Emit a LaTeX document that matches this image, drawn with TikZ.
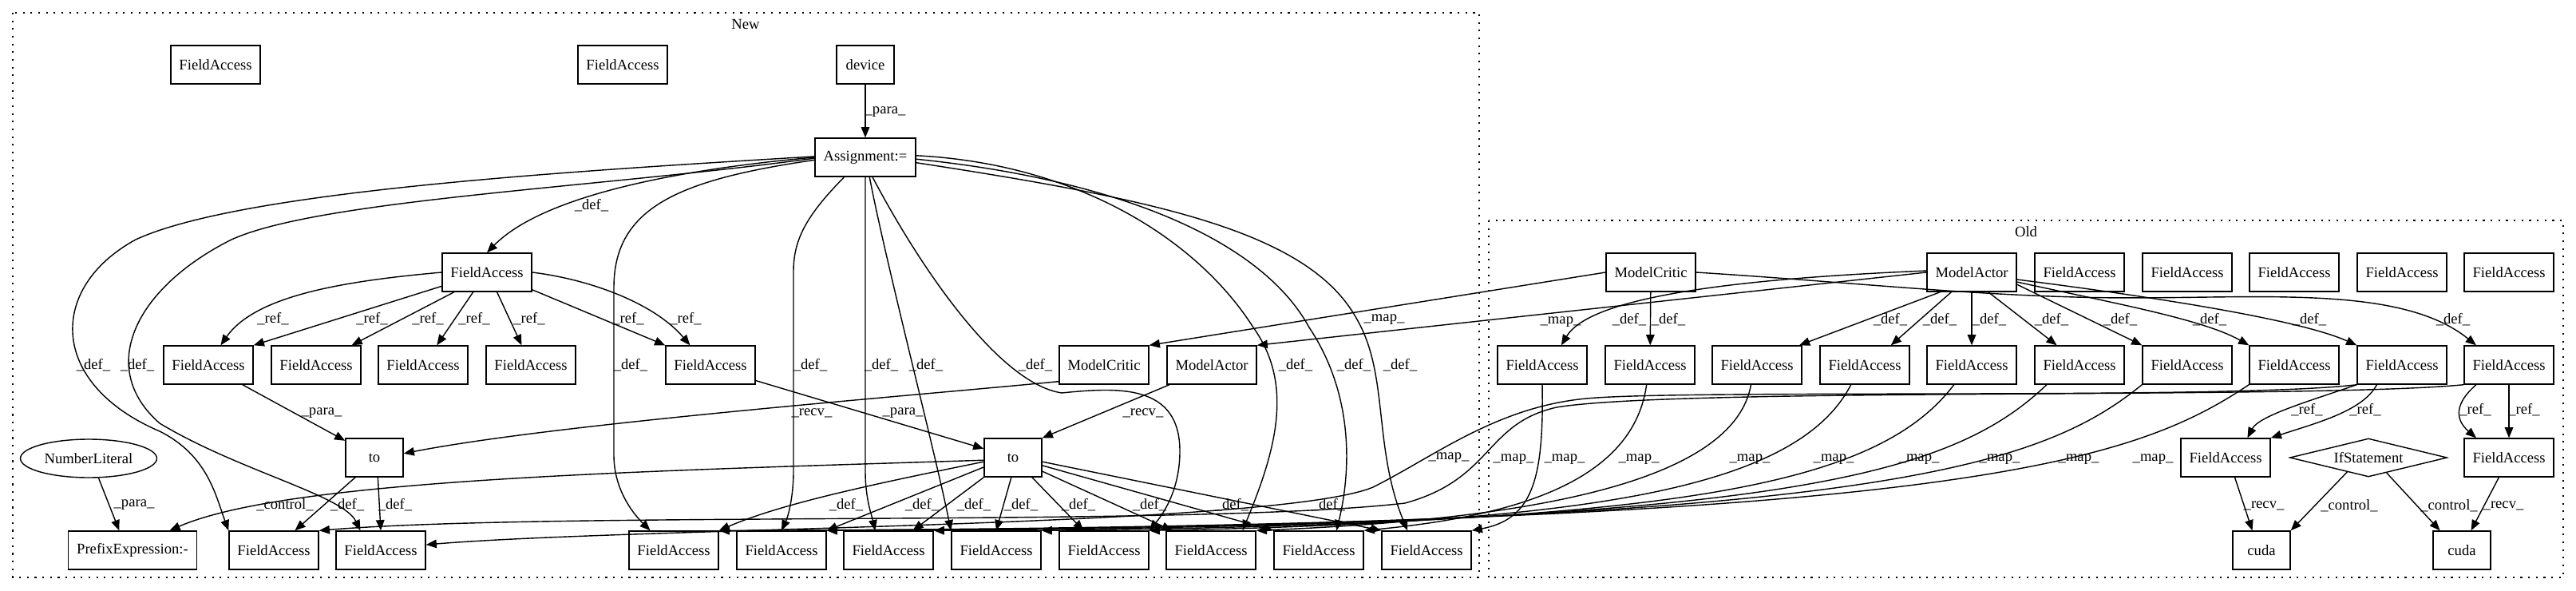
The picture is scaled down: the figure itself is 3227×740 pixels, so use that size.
\documentclass[tikz,border=0pt]{standalone}
\usepackage{fontspec}
\setmainfont{Liberation Serif}
\usetikzlibrary{shapes,arrows.meta}

\tikzset{
    box/.style={draw, rectangle, line width=0.8pt, minimum width=1.44cm, minimum height=0.96cm, inner xsep=0.21cm, inner ysep=0.1cm},
    oval/.style={draw, ellipse, line width=0.8pt, minimum width=3.42cm, minimum height=0.96cm, inner sep=0pt},
    cond/.style={draw, diamond, line width=0.8pt, aspect=4.1, minimum width=3.94cm, minimum height=0.96cm, inner sep=0pt},
    link/.style={-{Triangle[length=7.5pt,width=6pt]}, line width=0.8pt},
    lbl/.style={inner sep=0pt},
    cluster/.style={line width=0.8pt, dash pattern=on 1.2pt off 4.3pt}
}

\begin{document}
\begin{tikzpicture}[x=0.02cm, y=-0.02cm, font=\fontsize{10.6}{12}\selectfont]
    \useasboundingbox (0,0) rectangle (3227,740);

    % Clusters
    \draw[cluster] (16,16) rectangle (1853,723);
    \draw[cluster] (1865,276) rectangle (3211,723);
    \node (newTitle) at (934,30) {New};
    \node (oldTitle) at (2538,290) {Old};

    % New: nodes
    \node[box] (nFa1) at (270,81) {FieldAccess};
    \node[box] (nFa2) at (780,81) {FieldAccess};
    \node[box] (device) at (1084,81) {device};
    \node[box] (assign) at (1084,197) {Assignment:=};
    \node[box] (hub) at (610,341) {FieldAccess};
    \node[box] (r1) at (261,457) {FieldAccess};
    \node[box] (r2) at (396,457) {FieldAccess};
    \node[box] (r3) at (530,457) {FieldAccess};
    \node[box] (r4) at (665,457) {FieldAccess};
    \node[box] (r5) at (890,457) {FieldAccess};
    \node[box] (criticN) at (1383,457) {ModelCritic};
    \node[box] (actorN) at (1518,457) {ModelActor};
    \node[oval] (numLit) at (111,574) {NumberLiteral};
    \node[box] (toA) at (469,573) {to};
    \node[box] (toB) at (1269,573) {to};
    \node[box] (prefix) at (166,689) {PrefixExpression:-};
    \node[box] (b1) at (343,689) {FieldAccess};
    \node[box] (b2) at (477,689) {FieldAccess};
    \node[box] (b3) at (844,689) {FieldAccess};
    \node[box] (b4) at (979,689) {FieldAccess};
    \node[box] (b5) at (1113,689) {FieldAccess};
    \node[box] (b6) at (1248,689) {FieldAccess};
    \node[box] (b7) at (1383,689) {FieldAccess};
    \node[box] (b8) at (1517,689) {FieldAccess};
    \node[box] (b9) at (1652,689) {FieldAccess};
    \node[box] (b10) at (1787,689) {FieldAccess};

    % New: device and Assignment
    \draw[link] (device) -- (assign) node[lbl] at (1109,140) {\_para\_};
    \draw[link] (assign.west) .. controls (850,212) and (680,245) .. (hub.north) node[lbl] at (741,257) {\_def\_};
    \draw[link] (assign.179) .. controls (700,215) and (300,240) .. (170,300) .. controls (60,360) and (60,480) .. (200,540) .. controls (260,570) and (270,620) .. (b1.north west) node[lbl] at (117,457) {\_def\_};
    \draw[link] (assign.181) .. controls (750,235) and (400,250) .. (290,300) .. controls (170,360) and (120,460) .. (200,530) .. controls (300,590) and (430,620) .. (b2.136) node[lbl] at (172,457) {\_def\_};
    \draw[link] (assign.183) .. controls (850,225) and (769,260) .. (769,360) -- (769,570) .. controls (769,610) and (790,640) .. (b3.140) node[lbl] at (790,457) {\_def\_};
    \draw[link] (assign.223) .. controls (1010,270) and (994,300) .. (994,340) -- (994,590) .. controls (994,620) and (988,645) .. (b4.north) node[lbl] at (1015,457) {\_def\_};
    \draw[link] (assign.south) -- (1084,590) .. controls (1084,625) and (1092,645) .. (b5.124) node[lbl] at (1104,457) {\_def\_};
    \draw[link] (assign.282) .. controls (1110,330) and (1170,560) .. (b6.north west) node[lbl] at (1160,457) {\_def\_};
    \draw[link] (assign.290) .. controls (1150,330) and (1250,480) .. (1330,492) .. controls (1400,485) and (1478,480) .. (1478,565) .. controls (1478,610) and (1460,640) .. (b7.north east) node[lbl] at (1297,457) {\_def\_};
    \draw[link] (assign.2) .. controls (1350,205) and (1500,300) .. (1570,410) .. controls (1620,480) and (1600,560) .. (b8.32) node[lbl] at (1623,457) {\_def\_};
    \draw[link] (assign.-2) .. controls (1400,225) and (1580,300) .. (1640,410) .. controls (1700,500) and (1690,600) .. (b9.48) node[lbl] at (1696,457) {\_def\_};
    \draw[link] (assign.-6) .. controls (1450,250) and (1640,290) .. (1700,400) .. controls (1740,470) and (1720,560) .. (b10.134) node[lbl] at (1754,457) {\_def\_};

    % New: references of the hub
    \draw[link] (hub.west) .. controls (430,352) and (320,370) .. (r1.58) node[lbl] at (342,399) {\_ref\_};
    \draw[link] (hub.197) -- (r1.north east) node[lbl] at (466,399) {\_ref\_};
    \draw[link] (hub.211) -- (r2.29) node[lbl] at (536,399) {\_ref\_};
    \draw[link] (hub.235) -- (r3.55) node[lbl] at (594,399) {\_ref\_};
    \draw[link] (hub.297) -- (r4.115) node[lbl] at (663,399) {\_ref\_};
    \draw[link] (hub.339) -- (r5.north west) node[lbl] at (787,399) {\_ref\_};
    \draw[link] (hub.east) .. controls (740,350) and (820,380) .. (r5.136) node[lbl] at (859,399) {\_ref\_};

    % New: calls of to
    \draw[link] (r1.330) -- (toA.150) node[lbl] at (403,517) {\_para\_};
    \draw[link] (r5.341) -- (toB.163) node[lbl] at (1131,517) {\_para\_};
    \draw[link] (criticN.200) .. controls (1150,495) and (700,530) .. (toA.8) node[lbl] at (1017,517) {\_recv\_};
    \draw[link] (actorN.205) -- (toB.north east) node[lbl] at (1432,517) {\_recv\_};
    \draw[link] (toA.226) -- (b1.43) node[lbl] at (435,632) {\_def\_};
    \draw[link] (toA.280) -- (b2.north) node[lbl] at (495,632) {\_def\_};
    \draw[link] (numLit.297) -- (prefix.124) node[lbl] at (168,632) {\_para\_};
    \draw[link] (toB.185) .. controls (800,590) and (360,600) .. (prefix.28) node[lbl] at (357,632) {\_control\_};
    \draw[link] (toB.188) .. controls (1100,605) and (980,630) .. (b3.north east) node[lbl] at (1060,632) {\_def\_};
    \draw[link] (toB.198) -- (b4.north east) node[lbl] at (1155,632) {\_def\_};
    \draw[link] (toB.south west) -- (b5.39) node[lbl] at (1220,632) {\_def\_};
    \draw[link] (toB.265) -- (b6.north) node[lbl] at (1279,632) {\_def\_};
    \draw[link] (toB.314) -- (b7.136) node[lbl] at (1351,632) {\_def\_};
    \draw[link] (toB.335) -- (b8.153) node[lbl] at (1440,632) {\_def\_};
    \draw[link] (toB.345) -- (b9.north west) node[lbl] at (1543,632) {\_def\_};
    \draw[link] (toB.352) -- (b10.north west) node[lbl] at (1664,632) {\_def\_};

    % Old: nodes
    \node[box] (criticO) at (2068,341) {ModelCritic};
    \node[box] (actorO) at (2470,341) {ModelActor};
    \node[box] (oFa1) at (2605,341) {FieldAccess};
    \node[box] (oFa2) at (2740,341) {FieldAccess};
    \node[box] (oFa3) at (2874,341) {FieldAccess};
    \node[box] (oFa4) at (3009,341) {FieldAccess};
    \node[box] (oFa5) at (3143,341) {FieldAccess};
    \node[box] (o1) at (1932,457) {FieldAccess};
    \node[box] (o2) at (2067,457) {FieldAccess};
    \node[box] (o3) at (2201,457) {FieldAccess};
    \node[box] (o4) at (2336,457) {FieldAccess};
    \node[box] (o5) at (2470,457) {FieldAccess};
    \node[box] (o6) at (2605,457) {FieldAccess};
    \node[box] (o7) at (2740,457) {FieldAccess};
    \node[box] (o8) at (2874,457) {FieldAccess};
    \node[box] (o9) at (3009,457) {FieldAccess};
    \node[box] (o10) at (3143,457) {FieldAccess};
    \node[box] (oA) at (2788,573) {FieldAccess};
    \node[cond] (ifStmt) at (2967,573) {IfStatement};
    \node[box] (oB) at (3143,573) {FieldAccess};
    \node[box] (cudaA) at (2833,689) {cuda};
    \node[box] (cudaB) at (3084,689) {cuda};

    % Old: definitions
    \draw[link] (actorO.178) .. controls (2150,350) and (1990,375) .. (o1.46) node[lbl] at (2041,400) {\_def\_};
    \draw[link] (criticO) -- (o2) node[lbl] at (2090,400) {\_def\_};
    \draw[link] (actorO.212) -- (o3.25) node[lbl] at (2368,400) {\_def\_};
    \draw[link] (actorO.224) -- (o4.37) node[lbl] at (2430,400) {\_def\_};
    \draw[link] (actorO) -- (o5) node[lbl] at (2492,400) {\_def\_};
    \draw[link] (actorO.310) -- (o6.139) node[lbl] at (2570,400) {\_def\_};
    \draw[link] (actorO.345) -- (o7.north west) node[lbl] at (2656,400) {\_def\_};
    \draw[link] (actorO.348) .. controls (2650,380) and (2760,400) .. (o8.north west) node[lbl] at (2768,400) {\_def\_};
    \draw[link] (actorO.351) .. controls (2700,372) and (2880,400) .. (o9.north west) node[lbl] at (2893,400) {\_def\_};
    \draw[link] (criticO.east) .. controls (2300,352) and (2450,368) .. (2600,372) .. controls (2800,378) and (3000,350) .. (o10.149) node[lbl] at (3073,400) {\_def\_};

    % Old: references and cuda
    \draw[link] (o9.south west) .. controls (2900,500) and (2830,520) .. (oA.42) node[lbl] at (2890,513) {\_ref\_};
    \draw[link] (o9.218) .. controls (2960,515) and (2900,530) .. (oA.north east) node[lbl] at (2963,513) {\_ref\_};
    \draw[link] (o10.211) .. controls (3075,505) and (3075,525) .. (oB.149) node[lbl] at (3101,513) {\_ref\_};
    \draw[link] (o10) -- (oB) node[lbl] at (3162,513) {\_ref\_};
    \draw[link] (oA.295) -- (cudaA.115) node[lbl] at (2836,633) {\_recv\_};
    \draw[link] (ifStmt.214) -- (cudaA.north east) node[lbl] at (2943,633) {\_control\_};
    \draw[link] (ifStmt.320) -- (cudaB.138) node[lbl] at (3068,633) {\_control\_};
    \draw[link] (oB.243) -- (cudaB.65) node[lbl] at (3136,633) {\_recv\_};

    % Old -> New: mappings
    \draw[link] (criticO.west) -- (criticN.north east) node[lbl] at (1734,400) {\_map\_};
    \draw[link] (actorO.west) -- (actorN.north east) node[lbl] at (1955,403) {\_map\_};
    \draw[link] (o1.south) .. controls (1934,600) and (1920,650) .. (b10.north east) node[lbl] at (1960,575) {\_map\_};
    \draw[link] (o2.260) .. controls (2045,610) and (1880,648) .. (b9.north east) node[lbl] at (2053,575) {\_map\_};
    \draw[link] (o3.253) .. controls (2170,615) and (1870,652) .. (b8.north east) node[lbl] at (2192,575) {\_map\_};
    \draw[link] (o4.235) .. controls (2250,615) and (1980,654) .. (b7.north east) node[lbl] at (2297,575) {\_map\_};
    \draw[link] (o5.228) .. controls (2350,610) and (2100,655) .. (b6.north east) node[lbl] at (2404,575) {\_map\_};
    \draw[link] (o6.211) .. controls (2440,600) and (2220,656) .. (b5.north east) node[lbl] at (2505,575) {\_map\_};
    \draw[link] (o7.south west) .. controls (2550,590) and (2330,658) .. (b4.north east) node[lbl] at (2604,575) {\_map\_};
    \draw[link] (o8.south west) .. controls (2668,581) and (2450,660) .. (b3.north east) node[lbl] at (2697,575) {\_map\_};
    \draw[link] (o9.south west) .. controls (2800,500) and (2150,488) .. (2000,498) .. controls (1880,505) and (1800,570) .. (1720,610) .. controls (1600,660) and (800,660) .. (b2.7) node[lbl] at (1896,575) {\_map\_};
    \draw[link] (o10.south west) .. controls (2900,500) and (2100,485) .. (1950,510) .. controls (1860,530) and (1870,600) .. (1760,630) .. controls (1500,660) and (700,640) .. (b1.north east) node[lbl] at (1815,573) {\_map\_};
  \end{tikzpicture}
\end{document}
